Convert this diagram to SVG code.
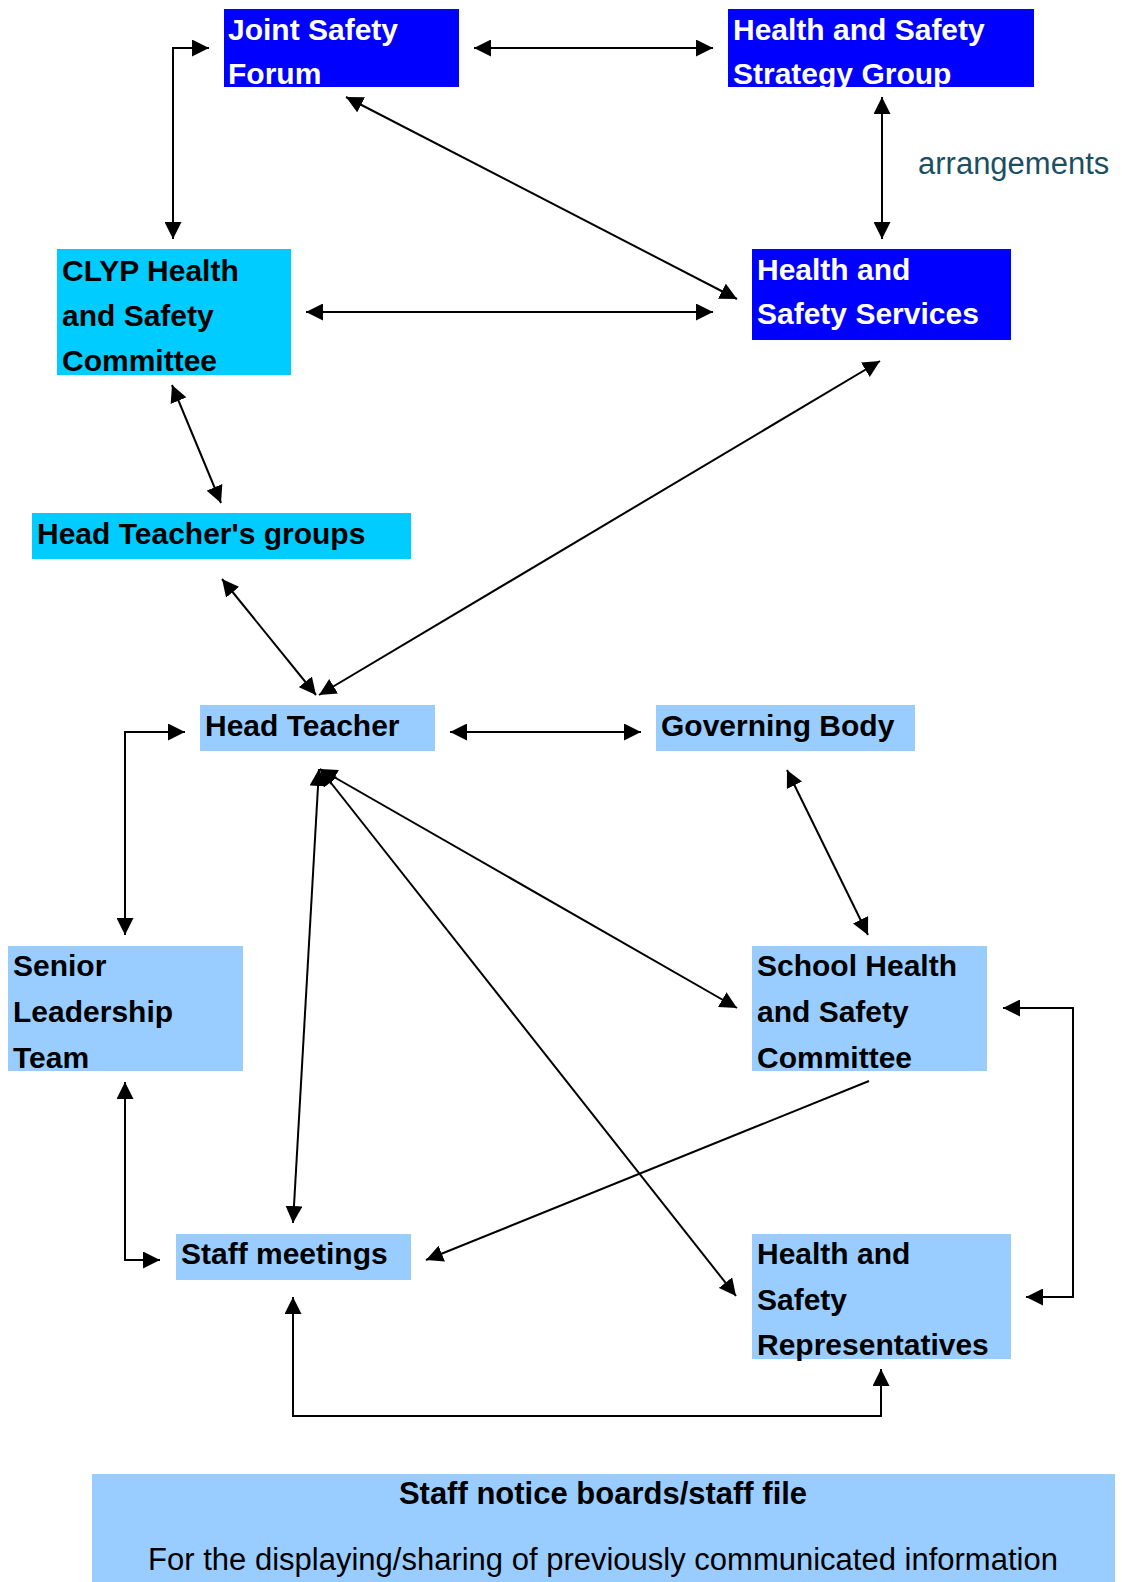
<svg xmlns="http://www.w3.org/2000/svg" width="1122" height="1582" viewBox="0 0 1122 1582">
<style>
.dark{fill:#0000FF}
.cyan{fill:#00CCFF}
.light{fill:#99CCFF}
.t{font-family:"Liberation Sans",Arial,sans-serif;font-weight:bold;font-size:30px;fill:#000}
.w{fill:#fff}
.reg{font-family:"Liberation Sans",Arial,sans-serif;font-size:31px;fill:#000}
.arr{font-family:"Liberation Sans",Arial,sans-serif;font-size:31px;fill:#1B4F64}
.c{fill:none;stroke:#000;stroke-width:2}
</style>
<defs>
<marker id="ah" viewBox="0 0 10 10" refX="10" refY="5" markerUnits="userSpaceOnUse" markerWidth="17" markerHeight="17" orient="auto-start-reverse">
<path d="M0,0 L10,5 L0,10 z" fill="#000"/>
</marker>
</defs>
<rect width="1122" height="1582" fill="#fff"/>

<g id="connectors">
<line class="c" x1="474" y1="48" x2="713" y2="48" marker-start="url(#ah)" marker-end="url(#ah)"/>
<polyline class="c" points="173,239 173,48 209,48" marker-start="url(#ah)" marker-end="url(#ah)"/>
<line class="c" x1="882" y1="97" x2="882" y2="239" marker-start="url(#ah)" marker-end="url(#ah)"/>
<line class="c" x1="346" y1="97" x2="737" y2="299" marker-start="url(#ah)" marker-end="url(#ah)"/>
<line class="c" x1="306" y1="312" x2="713" y2="312" marker-start="url(#ah)" marker-end="url(#ah)"/>
<line class="c" x1="172" y1="385" x2="221" y2="503" marker-start="url(#ah)" marker-end="url(#ah)"/>
<line class="c" x1="222" y1="579" x2="316" y2="695" marker-start="url(#ah)" marker-end="url(#ah)"/>
<line class="c" x1="880" y1="361" x2="319" y2="695" marker-start="url(#ah)" marker-end="url(#ah)"/>
<polyline class="c" points="185,732 125,732 125,935" marker-start="url(#ah)" marker-end="url(#ah)"/>
<line class="c" x1="450" y1="732" x2="641" y2="732" marker-start="url(#ah)" marker-end="url(#ah)"/>
<line class="c" x1="787" y1="770" x2="868" y2="935" marker-start="url(#ah)" marker-end="url(#ah)"/>
<line class="c" x1="320" y1="769" x2="737" y2="1008" marker-start="url(#ah)" marker-end="url(#ah)"/>
<line class="c" x1="319" y1="769" x2="293" y2="1223" marker-start="url(#ah)" marker-end="url(#ah)"/>
<line class="c" x1="320" y1="769" x2="736" y2="1296" marker-start="url(#ah)" marker-end="url(#ah)"/>
<line class="c" x1="869" y1="1081" x2="426" y2="1260" marker-end="url(#ah)"/>
<polyline class="c" points="125,1082 125,1260 160,1260" marker-start="url(#ah)" marker-end="url(#ah)"/>
<polyline class="c" points="1003,1008 1073,1008 1073,1297 1026,1297" marker-start="url(#ah)" marker-end="url(#ah)"/>
<polyline class="c" points="293,1297 293,1416 881,1416 881,1369" marker-start="url(#ah)" marker-end="url(#ah)"/>
</g>

<g id="joint-safety-forum">
<rect class="dark" x="224" y="9" width="235" height="78"/>
<text class="t w" x="228" y="40">Joint Safety</text>
<text class="t w" x="228" y="84">Forum</text>
</g>

<g id="strategy-group">
<rect class="dark" x="728" y="9" width="306" height="78"/>
<text class="t w" x="733" y="40">Health and Safety</text>
<text class="t w" x="733" y="84">Strategy Group</text>
</g>

<g id="arrangements-label">
<text class="arr" x="918" y="174">arrangements</text>
</g>

<g id="hs-services">
<rect class="dark" x="752" y="249" width="259" height="91"/>
<text class="t w" x="757" y="280">Health and</text>
<text class="t w" x="757" y="324">Safety Services</text>
</g>

<g id="clyp-committee">
<rect class="cyan" x="57" y="249" width="234" height="126"/>
<text class="t" x="62" y="281">CLYP Health</text>
<text class="t" x="62" y="326">and Safety</text>
<text class="t" x="62" y="371">Committee</text>
</g>

<g id="head-teachers-groups">
<rect class="cyan" x="32" y="513" width="379" height="46"/>
<text class="t" x="37" y="544">Head Teacher's groups</text>
</g>

<g id="head-teacher">
<rect class="light" x="200" y="705" width="235" height="46"/>
<text class="t" x="205" y="736">Head Teacher</text>
</g>

<g id="governing-body">
<rect class="light" x="656" y="705" width="259" height="46"/>
<text class="t" x="661" y="736">Governing Body</text>
</g>

<g id="senior-leadership-team">
<rect class="light" x="8" y="946" width="235" height="125"/>
<text class="t" x="13" y="976">Senior</text>
<text class="t" x="13" y="1022">Leadership</text>
<text class="t" x="13" y="1068">Team</text>
</g>

<g id="school-hs-committee">
<rect class="light" x="752" y="946" width="235" height="125"/>
<text class="t" x="757" y="976">School Health</text>
<text class="t" x="757" y="1022">and Safety</text>
<text class="t" x="757" y="1068">Committee</text>
</g>

<g id="staff-meetings">
<rect class="light" x="176" y="1234" width="235" height="46"/>
<text class="t" x="181" y="1264">Staff meetings</text>
</g>

<g id="hs-representatives">
<rect class="light" x="752" y="1234" width="259" height="125"/>
<text class="t" x="757" y="1264">Health and</text>
<text class="t" x="757" y="1310">Safety</text>
<text class="t" x="757" y="1355">Representatives</text>
</g>

<g id="staff-notice-boards">
<rect class="light" x="92" y="1474" width="1023" height="108"/>
<text class="t" x="603" y="1504" text-anchor="middle" style="font-size:31px">Staff notice boards/staff file</text>
<text class="reg" x="603" y="1570" text-anchor="middle">For the displaying/sharing of previously communicated information</text>
</g>
</svg>
